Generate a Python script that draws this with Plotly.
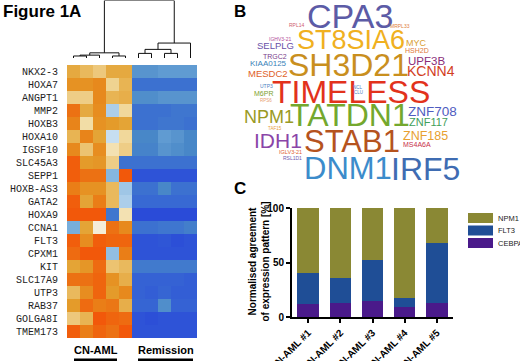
import plotly.graph_objects as go

W, H = 520, 361
def px(x): return x / W
def py(y): return 1 - y / H

# ---------------- data ----------------
genes = ["NKX2-3", "HOXA7", "ANGPT1", "MMP2", "HOXB3", "HOXA10", "IGSF10", "SLC45A3",
         "SEPP1", "HOXB-AS3", "GATA2", "HOXA9", "CCNA1", "FLT3", "CPXM1", "KIT",
         "SLC17A9", "UTP3", "RAB37", "GOLGA8I", "TMEM173"]
samples = ["CN1", "CN2", "CN3", "CN4", "CN5", "R1", "R2", "R3", "R4", "R5"]
expr = [
    [1.5, 1.2, 0.9, 1.5, 1.5, -1.3, -1.3, -1.2, -1.2, -1.2],
    [2.0, 2.0, 2.2, 0.7, 1.3, -2.0, -2.0, -2.0, -2.0, -2.0],
    [0.8, 0.8, 2.2, 1.3, 1.4, -1.4, -1.4, -1.3, -1.3, -1.3],
    [2.6, 1.5, 2.1, -0.5, 0.6, -2.0, -2.0, -2.0, -1.9, -1.9],
    [2.3, 0.5, 2.0, 1.8, 1.6, -2.0, -2.0, -1.9, -1.9, -2.0],
    [1.3, 2.3, 1.6, -0.3, 0.6, -1.5, -1.5, -1.2, -1.3, -1.5],
    [2.2, 1.0, 2.1, 0.4, 0.8, -1.6, -1.6, -1.3, -1.4, -1.5],
    [2.9, 1.8, 1.9, 0.8, -2.0, -2.0, -2.0, -2.0, -2.0, -2.0],
    [2.9, 2.6, 2.6, -0.8, 3.0, -2.8, -2.8, -2.8, -2.8, -2.8],
    [2.4, 2.0, 2.0, 1.2, -0.6, -2.0, -2.0, -1.5, -2.0, -2.0],
    [2.9, 1.6, 2.4, 1.2, -0.5, -2.2, -2.2, -2.2, -2.2, -2.2],
    [3.2, 3.2, 3.1, -1.9, 0.4, -3.0, -3.0, -3.0, -3.0, -3.0],
    [-0.9, 1.6, 0.1, 2.6, 2.2, -2.0, -2.0, -1.9, -1.9, -1.7],
    [2.9, 2.1, 2.9, 2.8, 2.8, -2.8, -2.8, -2.7, -2.9, -2.8],
    [2.7, 3.0, 3.0, -0.7, 2.4, -2.8, -2.8, -2.8, -2.8, -2.8],
    [1.6, 1.9, 2.7, 1.0, 1.2, -1.8, -1.8, -1.8, -1.8, -1.8],
    [2.6, 2.6, 2.8, 2.0, 1.4, -2.4, -2.4, -2.4, -2.4, -2.5],
    [1.2, 2.1, 2.8, 1.8, 2.2, -2.4, -2.5, -2.3, -2.5, -2.5],
    [1.8, 2.7, 2.4, 2.5, 1.4, -2.3, -2.3, -1.4, -2.4, -2.4],
    [0.9, 1.3, 3.1, 2.8, 2.7, -2.8, -2.9, -2.8, -2.8, -2.8],
    [2.9, 2.4, 2.8, 2.6, 3.0, -2.8, -2.8, -2.8, -2.8, -2.8],
]
# dendrogram merges: (node a, node b, height); leaves 0..9, new nodes from 10
dendro_merges = [
    (0, 1, 3.5), (10, 2, 5), (3, 4, 3.5), (11, 12, 9),
    (5, 6, 8), (7, 8, 8), (14, 15, 15), (16, 9, 26), (13, 17, 100),
]
group_labels = ["CN-AML", "Remission"]

cloud_words = ["CPA3", "RPL14", "MRPL33", "ST8SIA6", "IGHV3-21", "MYC", "SELPLG", "HSH2D",
               "SH3D21", "TRGC2", "UPF3B", "KIAA0125", "KCNN4", "MESDC2", "TIMELESS", "UTP3",
               "NCL", "CLU", "M6PR", "RPS6", "NPM1", "TAF15", "TATDN1", "ZNF708", "ZNF117",
               "IDH1", "STAB1", "ZNF185", "MS4A6A", "IGLV3-21", "RSL1D1", "DNM1", "IRF5"]
cloud_weights = [34, 5, 5, 27, 5, 9, 9.5, 7, 32, 7, 11.5, 8, 14, 9.5, 32, 5,
                 4.5, 4.5, 7, 4.5, 18, 4.5, 32, 13.5, 11, 21, 31, 12.5, 7, 5.5, 5, 31, 32]

bar_cats = ["CN-AML #1", "CN-AML #2", "CN-AML #3", "CN-AML #4", "CN-AML #5"]
cebpa = [12, 13, 14.5, 9.5, 12.8]
flt3 = [28.4, 23, 37.8, 8.2, 55.2]
npm1 = [59.6, 64, 47.7, 82.3, 32]
bar_series = ["NPM1", "FLT3", "CEBPA"]

# ---------------- layout / style ----------------
cloud_pos = [(350, 16), (297, 25), (400, 26), (351, 40), (280, 39.5), (416, 43), (275, 45),
             (417, 50.5), (348, 65), (275, 56.5), (426, 60.5), (268, 63), (431, 71),
             (268, 73), (351, 91.5), (266, 86), (358, 87), (358, 92.5), (263, 93), (266, 100),
             (269, 117), (275, 128.5), (350, 115), (432, 111.5), (428, 122.5), (278, 140),
             (352, 141.5), (425, 136), (417, 145), (290, 152), (292, 158), (348, 168.5),
             (425, 168.5)]
cloud_colors = ["#5C5BA6", "#D06070", "#E0803A", "#F0B020", "#B04898", "#D9A030", "#6A4FA8",
                "#E07838", "#C98F1E", "#7A3C8C", "#8A2D7A", "#3A82B8", "#D2401E", "#E06228",
                "#E2321C", "#4A7EC0", "#4A7EC0", "#4A7EC0", "#7EA030", "#E8A070", "#9A9A24",
                "#E8A040", "#74A82E", "#4F5CC0", "#3FA05A", "#8A45A8", "#B5531E", "#E8A030",
                "#C8304A", "#E06030", "#7058B0", "#3C8CCB", "#3F6CB2"]
bar_colors = {"NPM1": "#8A8834", "FLT3": "#1F4E96", "CEBPA": "#4A1A8A"}

colorscale = [
    [0.0, "#2A4BD8"], [0.15, "#3A6DD2"], [0.25, "#4887C8"], [0.35, "#78AEDB"],
    [0.45, "#C6DEF1"], [0.5, "#F5F1E4"], [0.58, "#F2DEA8"], [0.68, "#EBBF69"],
    [0.78, "#E3A02E"], [0.88, "#E8851A"], [1.0, "#F2580A"],
]

hm_x = [px(67), px(197)]
hm_y = [py(338), py(65)]

fig = go.Figure()

fig.add_trace(go.Heatmap(
    z=expr, x=samples, y=genes, colorscale=colorscale, zmin=-3, zmax=3,
    showscale=False, xgap=0, ygap=0, xaxis="x", yaxis="y", hoverinfo="skip"))

# dendrogram segments computed from merges
n_leaves = len(samples)
node_x = {i: float(i) for i in range(n_leaves)}
node_h = {i: 0.0 for i in range(n_leaves)}
dx, dy = [], []
for k, (a, b, h) in enumerate(dendro_merges):
    nid = n_leaves + k
    xa, xb = node_x[a], node_x[b]
    dx += [xa, xa, xb, xb, None]
    dy += [node_h[a], h, h, node_h[b], None]
    node_x[nid] = (xa + xb) / 2
    node_h[nid] = h
fig.add_trace(go.Scatter(x=dx, y=dy, mode="lines", line=dict(color="#111", width=1),
                         xaxis="x3", yaxis="y3", hoverinfo="skip", showlegend=False))

# stacked bars
for name, vals in zip(["CEBPA", "FLT3", "NPM1"], [cebpa, flt3, npm1]):
    fig.add_trace(go.Bar(x=bar_cats, y=vals, name=name, marker_color=bar_colors[name],
                         marker_line_width=0, width=0.67, xaxis="x2", yaxis="y2",
                         showlegend=False, hoverinfo="skip"))

ann = []
# word cloud
for w, s, (cx, cy), c in zip(cloud_words, cloud_weights, cloud_pos, cloud_colors):
    ann.append(dict(text=w, x=px(cx), y=py(cy), xref="paper", yref="paper",
                    xanchor="center", yanchor="middle", showarrow=False,
                    font=dict(family="Liberation Sans, Arial", size=s, color=c)))

# panel letters
for t, x, y in [("Figure 1A", 1, 11), ("B", 232, 11), ("C", 232, 188)]:
    ann.append(dict(text=t, x=px(x), y=py(y), xref="paper", yref="paper", xanchor="left",
                    yanchor="middle", showarrow=False,
                    font=dict(family="Liberation Sans, Arial", size=17, color="#000", weight="bold")))

# group labels
for t, x in zip(group_labels, [96, 166]):
    ann.append(dict(text=t, x=px(x), y=py(350), xref="paper", yref="paper", xanchor="center",
                    yanchor="middle", showarrow=False,
                    font=dict(family="Liberation Sans, Arial", size=11, color="#000", weight="bold")))

# y axis title of panel C
ann.append(dict(text="Normalised agreement<br>of expression pattern [%]", x=px(258.5), y=py(262),
                xref="paper", yref="paper", xanchor="center", yanchor="middle", showarrow=False,
                textangle=-90, font=dict(family="Liberation Sans, Arial", size=10, color="#000",
                                         weight="bold")))

shapes = []
for x0, x1 in [(74, 117), (138, 193)]:
    shapes.append(dict(type="line", xref="paper", yref="paper", x0=px(x0), x1=px(x1),
                       y0=py(360), y1=py(360), line=dict(color="#000", width=3)))

# custom legend
for name, yc in zip(bar_series, [218, 230.5, 243]):
    shapes.append(dict(type="rect", xref="paper", yref="paper", x0=px(468), x1=px(493),
                       y0=py(yc - 5), y1=py(yc + 5), fillcolor=bar_colors[name], line_width=0))
    ann.append(dict(text=name, x=px(495.5), y=py(yc), xref="paper", yref="paper", xanchor="left",
                    yanchor="middle", showarrow=False,
                    font=dict(family="Liberation Sans, Arial", size=7.5, color="#222")))

fig.update_layout(
    width=W, height=H, margin=dict(l=0, r=0, t=0, b=0, autoexpand=False),
    paper_bgcolor="white", plot_bgcolor="white", barmode="stack", bargap=0.33,
    annotations=ann, shapes=shapes,
    xaxis=dict(domain=hm_x, showticklabels=False, showgrid=False, zeroline=False,
               ticks="", showline=False, automargin=False),
    yaxis=dict(domain=hm_y, autorange="reversed", showgrid=False, zeroline=False,
               ticks="", showline=False, ticklabelstandoff=8, automargin=False,
               tickfont=dict(family="Liberation Mono, Courier New", size=10, color="#222")),
    xaxis3=dict(domain=hm_x, range=[-0.5, 9.5], visible=False, anchor="y3", automargin=False),
    yaxis3=dict(domain=[py(58), py(0.5)], range=[0, 100], visible=False, anchor="x3",
                automargin=False),
    xaxis2=dict(domain=[px(292), px(453)], anchor="y2", showgrid=False, zeroline=False,
                showline=True, linecolor="#000", linewidth=2, ticks="outside", ticklen=4,
                tickwidth=1.5, tickcolor="#000", tickangle=-45, automargin=False,
                tickfont=dict(family="Liberation Sans, Arial", size=10, color="#000", weight="bold")),
    yaxis2=dict(domain=[py(317), py(208)], anchor="x2", range=[0, 100], showgrid=False,
                zeroline=False, showline=True, linecolor="#000", linewidth=2, automargin=False,
                ticks="outside", ticklen=4, tickwidth=1.5, tickcolor="#000",
                tickvals=[0, 50, 100],
                tickfont=dict(family="Liberation Sans, Arial", size=10, color="#000", weight="bold")),
)

fig.write_html("out.html", config={"displayModeBar": False},
               post_script="document.body.style.margin='0';document.body.style.overflow='hidden';")
